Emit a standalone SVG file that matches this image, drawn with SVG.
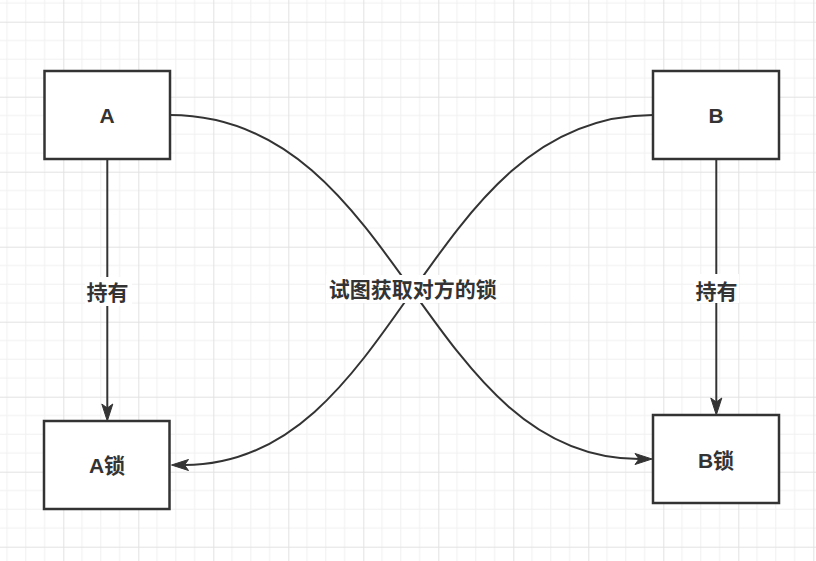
<svg xmlns="http://www.w3.org/2000/svg" width="816" height="561" viewBox="0 0 816 561">
  <defs>
    <pattern id="grid" patternUnits="userSpaceOnUse" x="63.3" y="21.7" width="75" height="75">
      <path d="M18.75,0 V75 M37.5,0 V75 M56.25,0 V75 M0,18.75 H75 M0,37.5 H75 M0,56.25 H75" stroke="#f0f0f0" stroke-width="1" fill="none"/>
      <path d="M0.5,0 V75 M0,0.5 H75" stroke="#e2e2e2" stroke-width="1" fill="none"/>
    </pattern>
    <marker id="arrow" markerUnits="userSpaceOnUse" markerWidth="18" markerHeight="12" refX="4" refY="5.5" orient="auto" overflow="visible">
      <path d="M0,0 L17,5.5 L0,11 L4,5.5 Z" fill="#333333" stroke="#333333" stroke-width="1" stroke-linejoin="miter"/>
    </marker>
    <style>
      .box { fill: #ffffff; stroke: #333333; stroke-width: 2.5; }
      .lbl { font-family: "Liberation Sans", "Noto Sans CJK SC", sans-serif; font-weight: bold; font-size: 21px; fill: #333333; text-anchor: middle; }
      .edge { fill: none; stroke: #333333; stroke-width: 2; marker-end: url(#arrow); }
      .lblbg { fill: #ffffff; }
    </style>
  </defs>
  <rect x="0" y="0" width="816" height="561" fill="#ffffff"/>
  <rect x="0" y="0" width="816" height="561" fill="url(#grid)"/>

  <g id="connectors">
    <path class="edge" d="M107.3,159 L107.3,408"/>
    <path class="edge" d="M716.3,159 L716.3,402"/>
    <path class="edge" d="M170,115 C400,115 423,459 639,459"/>
    <path class="edge" d="M653,115 C423,115 400,465 184.5,465"/>
  </g>

  <g id="label-hold-a">
    <rect class="lblbg" x="85" y="277" width="47" height="29"/>
    <text class="lbl" x="107.5" y="300">持有</text>
  </g>
  <g id="label-hold-b">
    <rect class="lblbg" x="694" y="274" width="45" height="29"/>
    <text class="lbl" x="716.5" y="298.5">持有</text>
  </g>
  <g id="label-try">
    <rect class="lblbg" x="326" y="275" width="174" height="28"/>
    <text class="lbl" x="412.8" y="297">试图获取对方的锁</text>
  </g>

  <g id="node-a">
    <rect class="box" x="44.5" y="71" width="125.5" height="88"/>
    <text class="lbl" x="107" y="123">A</text>
  </g>
  <g id="node-b">
    <rect class="box" x="653" y="71" width="126" height="88"/>
    <text class="lbl" x="716" y="123">B</text>
  </g>
  <g id="node-a-lock">
    <rect class="box" x="44" y="421" width="125.5" height="88"/>
    <text class="lbl" x="107" y="473">A锁</text>
  </g>
  <g id="node-b-lock">
    <rect class="box" x="653" y="415" width="126" height="88"/>
    <text class="lbl" x="716" y="467.5">B锁</text>
  </g>
</svg>
